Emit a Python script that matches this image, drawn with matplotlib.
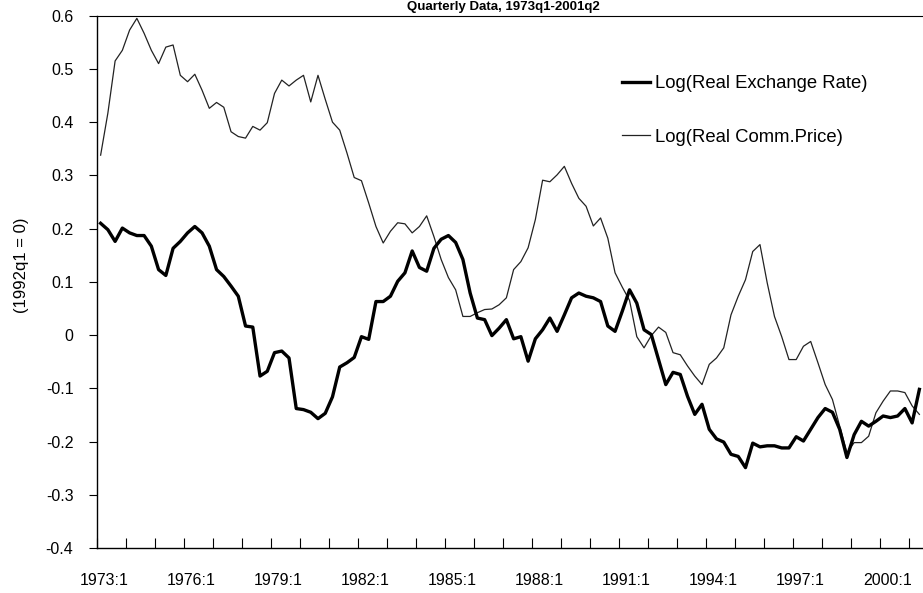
import matplotlib
matplotlib.use("Agg")
import matplotlib.pyplot as plt
import matplotlib.transforms as mtransforms
import numpy as np

plt.rcParams['font.family'] = ['Liberation Sans', 'DejaVu Sans']

# Quarterly data 1973:1 - 2001:2
start_year = 1973
n_quarters = 114

real_exchange_rate = [
    0.210, 0.198, 0.176, 0.201, 0.192, 0.187, 0.187, 0.167, 0.123, 0.112,
    0.163, 0.176, 0.192, 0.204, 0.192, 0.167, 0.123, 0.110, 0.092, 0.073,
    0.017, 0.015, -0.077, -0.068, -0.033, -0.030, -0.043, -0.138, -0.140, -0.145,
    -0.157, -0.147, -0.116, -0.060, -0.052, -0.042, -0.003, -0.008, 0.063, 0.063,
    0.073, 0.101, 0.117, 0.158, 0.127, 0.120, 0.163, 0.180, 0.187, 0.174,
    0.142, 0.079, 0.032, 0.029, -0.001, 0.013, 0.029, -0.007, -0.003, -0.049,
    -0.007, 0.010, 0.032, 0.007, 0.038, 0.070, 0.079, 0.073, 0.070, 0.063,
    0.017, 0.007, 0.045, 0.085, 0.060, 0.010, 0.001, -0.046, -0.093, -0.070,
    -0.074, -0.115, -0.149, -0.130, -0.177, -0.195, -0.201, -0.224, -0.228, -0.249,
    -0.203, -0.210, -0.208, -0.208, -0.212, -0.212, -0.191, -0.199, -0.177, -0.155,
    -0.138, -0.145, -0.177, -0.230, -0.187, -0.162, -0.171, -0.162, -0.152, -0.155,
    -0.152, -0.138, -0.165, -0.102,
]

real_comm_price = [
    0.338, 0.417, 0.515, 0.535, 0.573, 0.595, 0.567, 0.535, 0.510, 0.541,
    0.545, 0.488, 0.476, 0.490, 0.460, 0.426, 0.437, 0.428, 0.382, 0.373,
    0.370, 0.392, 0.385, 0.399, 0.454, 0.479, 0.468, 0.479, 0.488, 0.438,
    0.488, 0.443, 0.400, 0.385, 0.342, 0.296, 0.290, 0.248, 0.204, 0.173,
    0.195, 0.211, 0.209, 0.192, 0.204, 0.224, 0.185, 0.142, 0.108, 0.085,
    0.035, 0.035, 0.042, 0.048, 0.049, 0.057, 0.070, 0.123, 0.138, 0.164,
    0.217, 0.291, 0.288, 0.301, 0.317, 0.285, 0.257, 0.242, 0.205, 0.220,
    0.182, 0.117, 0.090, 0.065, -0.003, -0.024, -0.001, 0.015, 0.005, -0.033,
    -0.037, -0.058, -0.077, -0.093, -0.055, -0.043, -0.024, 0.038, 0.073, 0.104,
    0.157, 0.170, 0.098, 0.035, -0.003, -0.046, -0.046, -0.021, -0.012, -0.052,
    -0.093, -0.121, -0.171, -0.221, -0.202, -0.202, -0.190, -0.146, -0.124, -0.105,
    -0.105, -0.108, -0.133, -0.149,
]

series_labels = ["Log(Real Exchange Rate)", "Log(Real Comm.Price)"]
y_label = "(1992q1 = 0)"
title = "Quarterly Data, 1973q1-2001q2"
y_ticks = [0.6, 0.5, 0.4, 0.3, 0.2, 0.1, 0, -0.1, -0.2, -0.3, -0.4]
label_years = list(range(1973, 2001, 3))

W, H = 923, 593
fig = plt.figure(figsize=(W / 100, H / 100), dpi=100)
left, right, top, bottom = 97, 923, 15.7, 548
ax = fig.add_axes([left / W, (H - bottom) / H, (right - left) / W, (bottom - top) / H])

x = np.arange(n_quarters)
ax.plot(x, real_exchange_rate, color='black', lw=2.4, solid_joinstyle='round',
        label=series_labels[0], zorder=3)
ax.plot(x, real_comm_price, color='#222222', lw=0.9, label=series_labels[1], zorder=2)

ax.set_xlim(-0.5, n_quarters - 0.5)
ax.set_ylim(-0.4, 0.6)

ax.set_yticks(y_ticks)
ax.set_yticklabels(["0" if v == 0 else f"{v:g}" for v in y_ticks], fontsize=11.5)
ax.tick_params(axis='y', direction='out', length=6, width=0.8, pad=11)

lab_pos = [(yr - start_year) * 4 for yr in label_years]
ax.set_xticks(lab_pos)
ax.set_xticklabels([f"{yr}:1" for yr in label_years], fontsize=11.5)
ax.tick_params(axis='x', which='major', length=0, pad=18)
shift = mtransforms.ScaledTranslation(4 / 100, 0, fig.dpi_scale_trans)
for lab in ax.get_xticklabels():
    lab.set_transform(lab.get_transform() + shift)
ax.set_xticks(np.arange(-0.5, n_quarters, 4), minor=True)
ax.tick_params(axis='x', which='minor', direction='in', length=7, width=0.8)

for s in ['left', 'bottom']:
    ax.spines[s].set_linewidth(1.0)
    ax.spines[s].set_color('black')
ax.spines['top'].set_linestyle((0, (1, 1)))
ax.spines['top'].set_linewidth(0.8)
ax.spines['right'].set_visible(False)

fig.text(22 / W, 1 - 265 / H, y_label, rotation=90, ha='center', va='center', fontsize=12)
fig.text(503 / W, 1 - 1 / H, title, ha='center', va='top', fontsize=9.5, fontweight='bold')

leg = ax.legend(loc='upper left', bbox_to_anchor=((622 - left) / (right - left), 1 - (75 - top) / (bottom - top)),
                frameon=False, fontsize=13.3, handlelength=1.5, handletextpad=0.3,
                labelspacing=2.0, borderaxespad=0, borderpad=0)

fig.savefig("out.png", dpi=100)
